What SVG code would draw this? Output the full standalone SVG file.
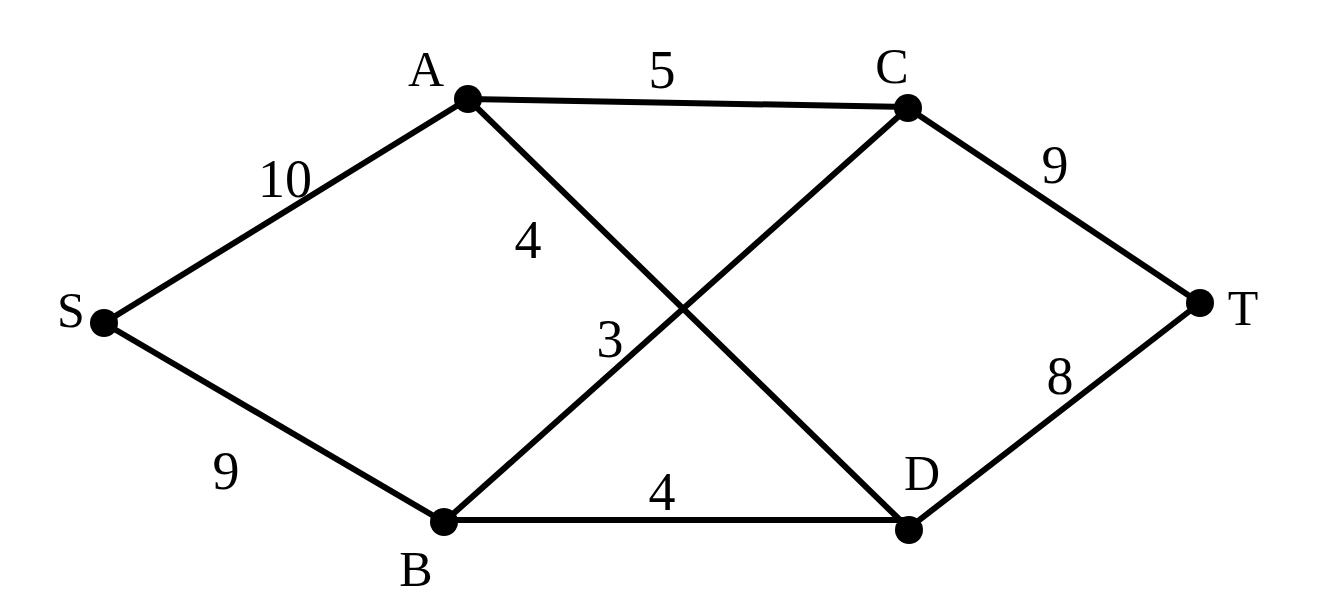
<svg xmlns="http://www.w3.org/2000/svg" width="1334" height="614" viewBox="0 0 1334 614">
<style>
.e{stroke:#000;stroke-width:6;fill:none;stroke-linecap:butt}
.n{fill:#000}
.lbl{font-family:"Liberation Serif","Times New Roman",serif;font-size:50px;fill:#000;text-anchor:middle}
.w{font-family:"Liberation Serif","Times New Roman",serif;font-size:54px;fill:#000;text-anchor:middle}
</style>
<rect width="1334" height="614" fill="#fff"/>
<g id="edges">
<line class="e" x1="104" y1="323" x2="468" y2="99"/>
<line class="e" x1="104" y1="323" x2="444" y2="522"/>
<line class="e" x1="468" y1="99" x2="908" y2="107"/>
<line class="e" x1="468" y1="99" x2="902" y2="522"/>
<line class="e" x1="908" y1="108" x2="444" y2="522"/>
<line class="e" x1="908" y1="108" x2="1200" y2="303"/>
<line class="e" x1="444" y1="520" x2="906" y2="520"/>
<line class="e" x1="909" y1="528" x2="1200" y2="303"/>
<text class="w" x="285" y="197">10</text>
<text class="w" x="662" y="88">5</text>
<text class="w" x="1055" y="183">9</text>
<text class="w" x="528" y="258">4</text>
<text class="w" x="610" y="357">3</text>
<text class="w" x="1060" y="394">8</text>
<text class="w" x="226" y="489">9</text>
<text class="w" x="662" y="510">4</text>
</g>
<g id="S"><circle class="n" cx="104" cy="323" r="14"/><text class="lbl" x="71" y="327">S</text></g>
<g id="A"><circle class="n" cx="468" cy="99" r="14"/><text class="lbl" x="426" y="86">A</text></g>
<g id="C"><circle class="n" cx="908" cy="108" r="14"/><text class="lbl" x="892" y="83">C</text></g>
<g id="T"><circle class="n" cx="1200" cy="303" r="14"/><text class="lbl" x="1243" y="325">T</text></g>
<g id="B"><circle class="n" cx="444" cy="522" r="14"/><text class="lbl" x="416" y="586">B</text></g>
<g id="D"><circle class="n" cx="909" cy="530" r="14"/><text class="lbl" x="922" y="490">D</text></g>
</svg>
